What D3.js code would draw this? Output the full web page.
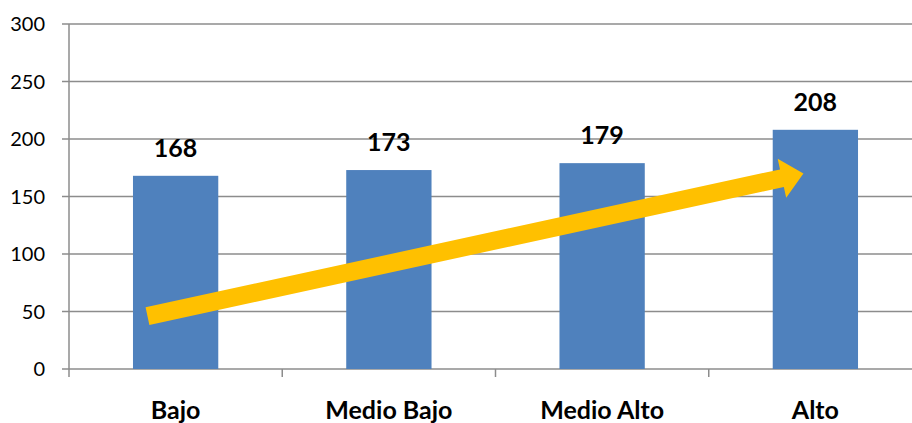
<!DOCTYPE html>
<html>
<head>
<meta charset="utf-8">
<script src="https://d3js.org/d3.v7.min.js"></script>
<style>
  body { margin: 0; background: #fff; }
  svg { display: block; font-family: Lato, "Open Sans", sans-serif; }
  line.grid { stroke: #8c8c8c; stroke-width: 1.5; }
  text.ytick { font-size: 20px; fill: #000; }
  text.cat { font-size: 25px; font-weight: bold; fill: #000; }
  text.val { font-size: 25px; font-weight: bold; fill: #000; }
</style>
</head>
<body>
<svg id="chart" width="912" height="423"></svg>
<script>
  // data
  var categories = ['Bajo', 'Medio Bajo', 'Medio Alto', 'Alto'];
  var values = [168, 173, 179, 208];
  var yTicks = [0, 50, 100, 150, 200, 250, 300];
  // trend arrow, in data terms: [category, position across bar, value]
  var arrowFrom = ['Bajo', 0.17, 46];
  var arrowTo = ['Alto', 0.36, 170];

  var svg = d3.select('#chart');
  // note: "top" is reserved on window, so plot bounds get their own names
  var plotLeft = 69, plotRight = 922, plotTop = 24, plotBottom = 369;

  var x = d3.scaleBand()
    .domain(categories)
    .range([plotLeft, plotRight])
    .paddingInner(0.6)
    .paddingOuter(0.3);

  var y = d3.scaleLinear()
    .domain([0, 300])
    .range([plotBottom, plotTop]);

  // gridlines + y labels
  svg.selectAll('line.grid')
      .data(yTicks)
    .enter().append('line')
      .attr('class', 'grid')
      .attr('x1', plotLeft - 7)
      .attr('x2', 912)
      .attr('y1', function(d) { return y(d); })
      .attr('y2', function(d) { return y(d); });

  svg.selectAll('text.ytick')
      .data(yTicks)
    .enter().append('text')
      .attr('class', 'ytick')
      .attr('x', 45)
      .attr('y', function(d) { return y(d); })
      .attr('dy', '0.36em')
      .attr('text-anchor', 'end')
      .text(function(d) { return d; });

  // vertical axis line
  svg.append('line')
    .attr('class', 'grid')
    .attr('x1', plotLeft).attr('x2', plotLeft)
    .attr('y1', y(300)).attr('y2', plotBottom + 8);

  // category tick marks between bands
  var step = x.step();
  svg.selectAll('line.tick')
      .data(categories.slice(1))
    .enter().append('line')
      .attr('class', 'grid tick')
      .attr('x1', function(d) { return x(d) - (step - x.bandwidth()) / 2; })
      .attr('x2', function(d) { return x(d) - (step - x.bandwidth()) / 2; })
      .attr('y1', plotBottom)
      .attr('y2', plotBottom + 8);

  // bars
  svg.selectAll('rect.bar')
      .data(values)
    .enter().append('rect')
      .attr('class', 'bar')
      .attr('x', function(d, i) { return x(categories[i]); })
      .attr('y', function(d) { return y(d); })
      .attr('width', x.bandwidth())
      .attr('height', function(d) { return plotBottom - y(d); })
      .attr('fill', '#4f81bd');

  // value labels
  svg.selectAll('text.val')
      .data(values)
    .enter().append('text')
      .attr('class', 'val')
      .attr('x', function(d, i) { return x(categories[i]) + x.bandwidth() / 2; })
      .attr('y', function(d) { return y(d) - 19; })
      .attr('text-anchor', 'middle')
      .text(function(d) { return d; });

  // category labels
  svg.selectAll('text.cat')
      .data(categories)
    .enter().append('text')
      .attr('class', 'cat')
      .attr('x', function(d) { return x(d) + x.bandwidth() / 2; })
      .attr('y', 419)
      .attr('text-anchor', 'middle')
      .text(function(d) { return d; });

  // trend arrow
  var x0 = x(arrowFrom[0]) + x.bandwidth() * arrowFrom[1], y0 = y(arrowFrom[2]);
  var x1 = x(arrowTo[0]) + x.bandwidth() * arrowTo[1], y1 = y(arrowTo[2]);
  var len = Math.hypot(x1 - x0, y1 - y0);
  var ang = Math.atan2(y1 - y0, x1 - x0) * 180 / Math.PI;
  var shaft = 9, headW = 20, headL = 22;
  var pts = [
    [0, -shaft], [len - headL, -shaft], [len - headL, -headW],
    [len, 0],
    [len - headL, headW], [len - headL, shaft], [0, shaft]
  ];
  svg.append('polygon')
    .attr('points', pts.map(function(p) { return p.join(','); }).join(' '))
    .attr('transform', 'translate(' + x0 + ',' + y0 + ') rotate(' + ang + ')')
    .attr('fill', '#ffc000');
</script>
</body>
</html>
